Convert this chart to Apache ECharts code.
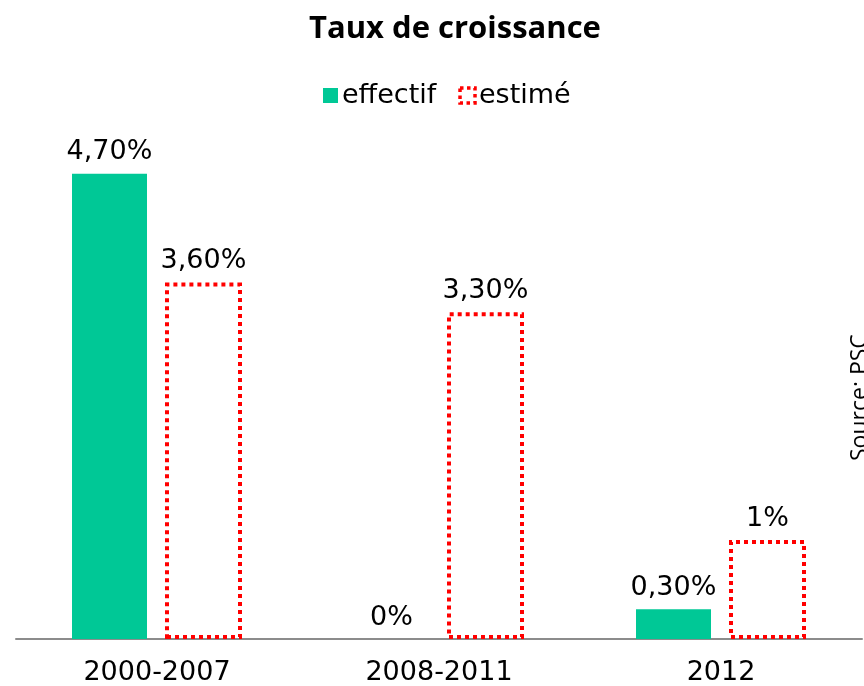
<!DOCTYPE html>
<html>
<head>
<meta charset="utf-8">
<script src="https://cdn.jsdelivr.net/npm/echarts@6/dist/echarts.min.js"></script>
<style>
  html, body { margin: 0; padding: 0; background: #fff; }
  #chart { width: 864px; height: 686px; }
</style>
</head>
<body>
<div id="chart"></div>
<script>
var categories = ['2000-2007', '2008-2011', '2012'];
var effectif = [4.7, 0, 0.3];
var estime = [3.6, 3.3, 1];
var effectifLabels = ['4,70%', '0%', '0,30%'];
var estimeLabels = ['3,60%', '3,30%', '1%'];

var labelFont = 'DejaVu Sans';

echarts.init(document.querySelector('#chart')).setOption({
    animation: false,
    title: {
        text: 'Taux de croissance',
        left: 450,
        textAlign: 'center',
        top: 9,
        textStyle: {
            fontFamily: 'Open Sans',
            fontWeight: 'bold',
            fontSize: 31,
            color: '#000'
        }
    },
    legend: {
        top: 77,
        left: 318,
        itemWidth: 15,
        itemHeight: 15,
        itemGap: 22,
        icon: 'rect',
        textStyle: { fontFamily: labelFont, fontSize: 27, color: '#000', padding: [0, 0, 0, -1] },
        data: [
            { name: 'effectif' },
            { name: 'estimé', itemStyle: { color: '#fff', borderColor: '#ff0000', borderWidth: 3.5, borderType: [3.5, 3.5] } }
        ]
    },
    grid: { left: 16, right: 2, top: 144, bottom: 46 },
    xAxis: {
        type: 'category',
        data: categories,
        axisLine: { lineStyle: { color: '#8c8c8c', width: 2 } },
        axisTick: { show: false },
        axisLabel: { fontFamily: labelFont, fontSize: 27, color: '#000', margin: 20 }
    },
    yAxis: {
        type: 'value',
        min: 0,
        max: 5,
        show: false,
        splitLine: { show: false }
    },
    series: [
        {
            name: 'effectif',
            type: 'bar',
            data: effectif,
            barWidth: 75,
            barGap: '24%',
            itemStyle: { color: '#00C896' },
            label: {
                show: true,
                position: 'top',
                distance: 8,
                fontFamily: labelFont,
                fontSize: 27,
                color: '#000',
                formatter: function (p) { return effectifLabels[p.dataIndex]; }
            }
        },
        {
            name: 'estimé',
            type: 'bar',
            data: estime,
            barWidth: 77,
            itemStyle: {
                color: '#fff',
                borderColor: '#ff0000',
                borderWidth: 4,
                borderType: [4, 4]
            },
            label: {
                show: true,
                position: 'top',
                distance: 8,
                fontFamily: labelFont,
                fontSize: 27,
                color: '#000',
                formatter: function (p) { return estimeLabels[p.dataIndex]; }
            }
        }
    ],
    graphic: [{
        type: 'text',
        x: 849,
        y: 461,
        rotation: Math.PI / 2,
        style: {
            text: 'Source: PSC',
            fontFamily: 'Open Sans',
            fontSize: 23,
            fill: '#000',
            textVerticalAlign: 'top'
        }
    }]
});
</script>
</body>
</html>
